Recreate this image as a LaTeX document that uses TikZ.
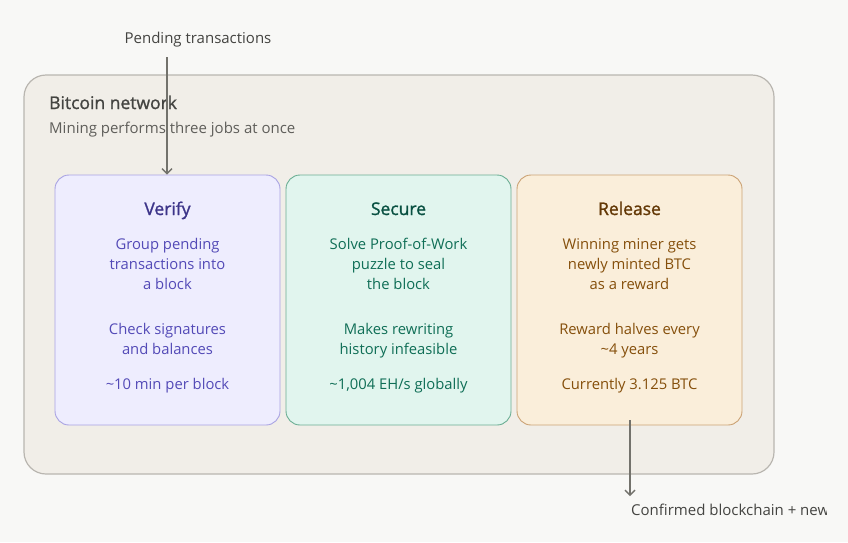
\documentclass[tikz,border=0pt]{standalone}
\usepackage{fontspec}
\setmainfont{Open Sans}
\newfontfamily\medfont[FakeBold=1.2]{Open Sans}
\usetikzlibrary{arrows.meta}
\definecolor{bg}{HTML}{F8F8F6}
\definecolor{netfill}{HTML}{F1EEE8}
\definecolor{netdraw}{HTML}{B9B6B0}
\definecolor{netsub}{HTML}{5F5E5A}
\definecolor{nettitle}{HTML}{444441}
\definecolor{arrowc}{HTML}{73726C}
\definecolor{vfill}{HTML}{EEEDFE}
\definecolor{vdraw}{HTML}{A9A3E3}
\definecolor{vtitle}{HTML}{3C3489}
\definecolor{vbody}{HTML}{534AB7}
\definecolor{sfill}{HTML}{E1F5EE}
\definecolor{sdraw}{HTML}{6AAE93}
\definecolor{stitle}{HTML}{085041}
\definecolor{sbody}{HTML}{0F6E56}
\definecolor{rfill}{HTML}{FAEEDA}
\definecolor{rdraw}{HTML}{CBA274}
\definecolor{rtitle}{HTML}{633806}
\definecolor{rbody}{HTML}{854F0B}
\tikzset{
  job/.style={draw, line width=0.9pt, rounded corners=14pt, minimum width=225pt, minimum height=250pt, inner sep=0pt},
  jobtitle/.style={font=\medfont\fontsize{17.5}{20}\selectfont, anchor=base},
  jobbody/.style={font=\fontsize{14.8}{20}\selectfont, align=center, anchor=base},
  flow/.style={draw=arrowc, line width=1.4pt, -{Straight Barb[length=5pt,width=10pt]}},
  lbl/.style={font=\fontsize{15}{18}\selectfont, text=nettitle, anchor=base, inner sep=0pt}
}
\begin{document}
\begin{tikzpicture}[x=1pt,y=-1pt]
\useasboundingbox (0,0) rectangle (848,542);
\clip (0,0) rectangle (848,542);
\fill[bg] (0,0) rectangle (848,542);
\node[draw=netdraw, fill=netfill, line width=1.2pt, rounded corners=22pt, minimum width=750pt, minimum height=399pt, inner sep=0pt] (net) at (399,274.5) {};
\node[anchor=base west, inner sep=0pt, text=nettitle, font=\medfont\fontsize{17.5}{20}\selectfont] (nettitle) at (49,109) {Bitcoin network};
\node[anchor=base west, inner sep=0pt, text=netsub, font=\fontsize{15}{18}\selectfont] (netsub) at (49,133) {Mining performs three jobs at once};
% job boxes
\node[job, fill=vfill, draw=vdraw] (verify) at (167.5,300) {};
\node[job, fill=sfill, draw=sdraw] (secure) at (398.5,300) {};
\node[job, fill=rfill, draw=rdraw] (release) at (629.5,300) {};
% verify texts
\node[jobtitle, text=vtitle] (vt) at (167.5,215) {Verify};
\node[jobbody, text=vbody] (vb1) at (167.5,289) {Group pending\\transactions into\\a block};
\node[jobbody, text=vbody] (vb2) at (167.5,354) {Check signatures\\and balances};
\node[jobbody, text=vbody] (vb3) at (167.5,389) {\char`\~10 min per block};
% secure texts
\node[jobtitle, text=stitle] (st) at (398.5,215) {Secure};
\node[jobbody, text=sbody] (sb1) at (398.5,289) {Solve Proof-of-Work\\puzzle to seal\\the block};
\node[jobbody, text=sbody] (sb2) at (398.5,354) {Makes rewriting\\history infeasible};
\node[jobbody, text=sbody] (sb3) at (398.5,389) {\char`\~1,004 EH/s globally};
% release texts
\node[jobtitle, text=rtitle] (rt) at (629.5,215) {Release};
\node[jobbody, text=rbody] (rb1) at (629.5,289) {Winning miner gets\\newly minted BTC\\as a reward};
\node[jobbody, text=rbody] (rb2) at (629.5,354) {Reward halves every\\\char`\~4 years};
\node[jobbody, text=rbody] (rb3) at (629.5,389) {Currently 3.125 BTC};
% flows
\node[lbl] (pending) at (198,43) {Pending transactions};
\coordinate (pin) at (167,57);
\draw[flow] (pin) -- (verify.north -| pin);
\begin{scope}
\clip (600,490) rectangle (826,530);
\node[lbl, anchor=base west] (confirmed) at (631,515) {Confirmed blockchain + new blocks};
\end{scope}
\coordinate (pout) at (630,496);
\draw[flow] ([yshift=5pt]release.south -| pout) -- (pout);
\end{tikzpicture}
\end{document}
